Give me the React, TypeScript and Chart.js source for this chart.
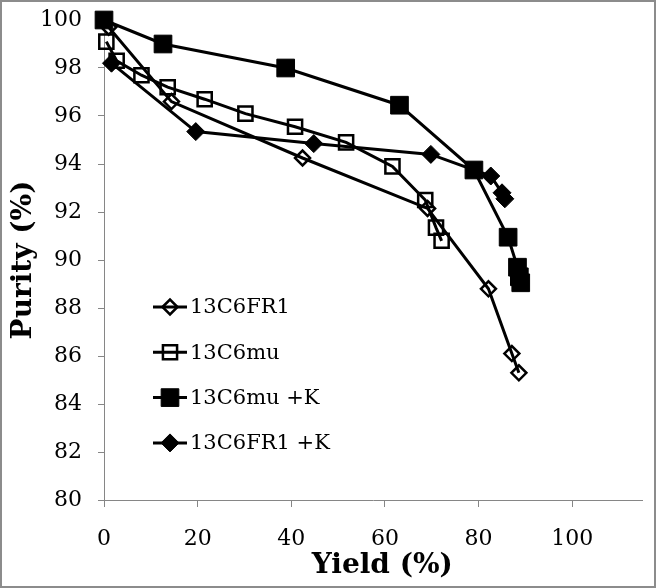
import { useEffect, useRef } from 'react';
import { Chart, registerables } from 'chart.js';

Chart.register(...registerables);

// ---- data ----
const FR1_YIELD = [1.0, 14.4, 42.4, 69.1, 82.1, 87.1, 88.6];
const FR1_PURITY = [99.7, 96.6, 94.25, 92.15, 88.8, 86.1, 85.3];

const MU_YIELD = [0.5, 2.7, 8.0, 13.6, 21.5, 30.2, 40.8, 51.7, 61.6, 68.6, 70.9, 72.1];
const MU_PURITY = [99.1, 98.3, 97.7, 97.2, 96.7, 96.1, 95.55, 94.9, 93.9, 92.5, 91.35, 90.8];

const MUK_YIELD = [0.0, 12.6, 38.8, 63.1, 79.0, 86.3, 88.3, 88.7, 89.0];
const MUK_PURITY = [100.0, 99.0, 98.0, 96.45, 93.75, 90.95, 89.7, 89.3, 89.05];

const FR1K_YIELD = [1.6, 19.6, 44.8, 69.8, 82.6, 85.0, 85.6];
const FR1K_PURITY = [98.2, 95.35, 94.85, 94.4, 93.5, 92.8, 92.55];

const SERIES_NAMES = ['13C6FR1', '13C6mu', '13C6mu +K', '13C6FR1 +K'];
const X_TICKS = [0, 20, 40, 60, 80, 100];
const Y_TICKS = [80, 82, 84, 86, 88, 90, 92, 94, 96, 98, 100];
const X_TITLE = 'Yield (%)';
const Y_TITLE = 'Purity (%)';

const FONT = 'DejaVu Serif';
const AXIS_GREY = '#868686';

const toPoints = (xs: number[], ys: number[]) => xs.map((x, i) => ({ x, y: ys[i] }));

type MarkerSpec = { style: 'rect' | 'rectRot'; radius: number; fill: string; borderWidth: number };
const MARKERS: MarkerSpec[] = [
  { style: 'rectRot', radius: 7.5, fill: 'rgba(0,0,0,0)', borderWidth: 2.5 },
  { style: 'rect', radius: 10, fill: 'rgba(0,0,0,0)', borderWidth: 2.5 },
  { style: 'rect', radius: 12.5, fill: '#000', borderWidth: 1 },
  { style: 'rectRot', radius: 9, fill: '#000', borderWidth: 1 },
];

function drawMarker(ctx: CanvasRenderingContext2D, m: MarkerSpec, x: number, y: number) {
  ctx.save();
  ctx.beginPath();
  if (m.style === 'rect') {
    const s = Math.SQRT1_2 * m.radius;
    ctx.rect(x - s, y - s, 2 * s, 2 * s);
  } else {
    const r = m.radius;
    ctx.moveTo(x - r, y);
    ctx.lineTo(x, y - r);
    ctx.lineTo(x + r, y);
    ctx.lineTo(x, y + r);
    ctx.closePath();
  }
  ctx.fillStyle = m.fill;
  ctx.fill();
  ctx.lineWidth = m.borderWidth;
  ctx.strokeStyle = '#000';
  ctx.stroke();
  ctx.restore();
}

const insideLegendAndTitle = {
  id: 'insideLegendAndTitle',
  afterDraw(chart: any) {
    const ctx: CanvasRenderingContext2D = chart.ctx;
    const a = chart.chartArea;
    const lineX0 = a.left + 49;
    const lineX1 = a.left + 83;
    const textX = a.left + 86;
    const y0 = a.top + 287;
    const step = 45.3;
    ctx.save();
    ctx.font = `21px "${FONT}"`;
    ctx.textBaseline = 'middle';
    ctx.textAlign = 'left';
    chart.data.datasets.forEach((ds: any, i: number) => {
      const y = y0 + i * step;
      ctx.beginPath();
      ctx.moveTo(lineX0, y);
      ctx.lineTo(lineX1, y);
      ctx.lineWidth = 3;
      ctx.strokeStyle = '#000';
      ctx.stroke();
      drawMarker(ctx, MARKERS[i], (lineX0 + lineX1) / 2, y);
      ctx.fillStyle = '#000';
      ctx.fillText(ds.label, textX, y + 1);
    });
    // x-axis title (slightly right of the plot centre, as in the reference)
    ctx.font = `bold 28px "${FONT}"`;
    ctx.textAlign = 'center';
    ctx.textBaseline = 'alphabetic';
    ctx.fillText(X_TITLE, (a.left + a.right) / 2 + 9, a.bottom + 73);
    ctx.restore();
  },
};

export default function App() {
  const ref = useRef<HTMLCanvasElement>(null);

  useEffect(() => {
    const series = [
      toPoints(FR1_YIELD, FR1_PURITY),
      toPoints(MU_YIELD, MU_PURITY),
      toPoints(MUK_YIELD, MUK_PURITY),
      toPoints(FR1K_YIELD, FR1K_PURITY),
    ];
    const datasets = series.map((data, i) => ({
      label: SERIES_NAMES[i],
      data,
      borderColor: '#000',
      borderWidth: 3,
      backgroundColor: '#000',
      pointStyle: MARKERS[i].style,
      pointRadius: MARKERS[i].radius,
      pointHoverRadius: MARKERS[i].radius,
      pointBackgroundColor: MARKERS[i].fill,
      pointBorderColor: '#000',
      pointBorderWidth: MARKERS[i].borderWidth,
      showLine: true,
      tension: 0,
      clip: false as any,
      order: 4 - i,
    }));

    const chart = new Chart(ref.current as HTMLCanvasElement, {
      type: 'scatter',
      data: { datasets },
      options: {
        animation: false,
        responsive: false,
        devicePixelRatio: 1,
        layout: { padding: { top: 20, right: 13, left: 0, bottom: 0 } },
        plugins: { legend: { display: false }, tooltip: { enabled: false } },
        scales: {
          x: {
            type: 'linear',
            min: 0,
            max: 115,
            afterBuildTicks: (s: any) => {
              s.ticks = X_TICKS.map((v) => ({ value: v }));
            },
            afterFit: (s: any) => {
              s.height = 88;
              s.paddingLeft = 0;
              s.paddingRight = 0;
            },
            grid: { drawOnChartArea: false, drawTicks: true, tickLength: 7, color: AXIS_GREY, lineWidth: 1 },
            border: { color: AXIS_GREY, width: 1 },
            ticks: { font: { family: FONT, size: 22 }, color: '#000', padding: 19, maxRotation: 0 },
            title: { display: false, text: X_TITLE },
          },
          y: {
            type: 'linear',
            min: 80,
            max: 100,
            afterBuildTicks: (s: any) => {
              s.ticks = Y_TICKS.map((v) => ({ value: v }));
            },
            afterFit: (s: any) => {
              s.width = 104;
              s.paddingTop = 0;
              s.paddingBottom = 0;
            },
            grid: { drawOnChartArea: false, drawTicks: true, tickLength: 6, color: AXIS_GREY, lineWidth: 1 },
            border: { color: AXIS_GREY, width: 1 },
            ticks: { font: { family: FONT, size: 22 }, color: '#000', padding: 16 },
            title: {
              display: true,
              text: Y_TITLE,
              color: '#000',
              font: { family: FONT, size: 28, weight: 'bold' },
              padding: { top: 7, bottom: 0 },
            },
          },
        },
      },
      plugins: [insideLegendAndTitle],
    } as any);
    return () => chart.destroy();
  }, []);

  return (
    <div style={{ position: 'absolute', left: 0, top: 0, width: 656, height: 588, background: '#fff' }}>
      <canvas ref={ref} width={656} height={588} style={{ display: 'block', width: 656, height: 588 }} />
      <div
        style={{
          position: 'absolute',
          left: 0,
          top: 0,
          width: 656,
          height: 588,
          boxSizing: 'border-box',
          border: '2px solid #8c8c8c',
          pointerEvents: 'none',
        }}
      />
    </div>
  );
}
